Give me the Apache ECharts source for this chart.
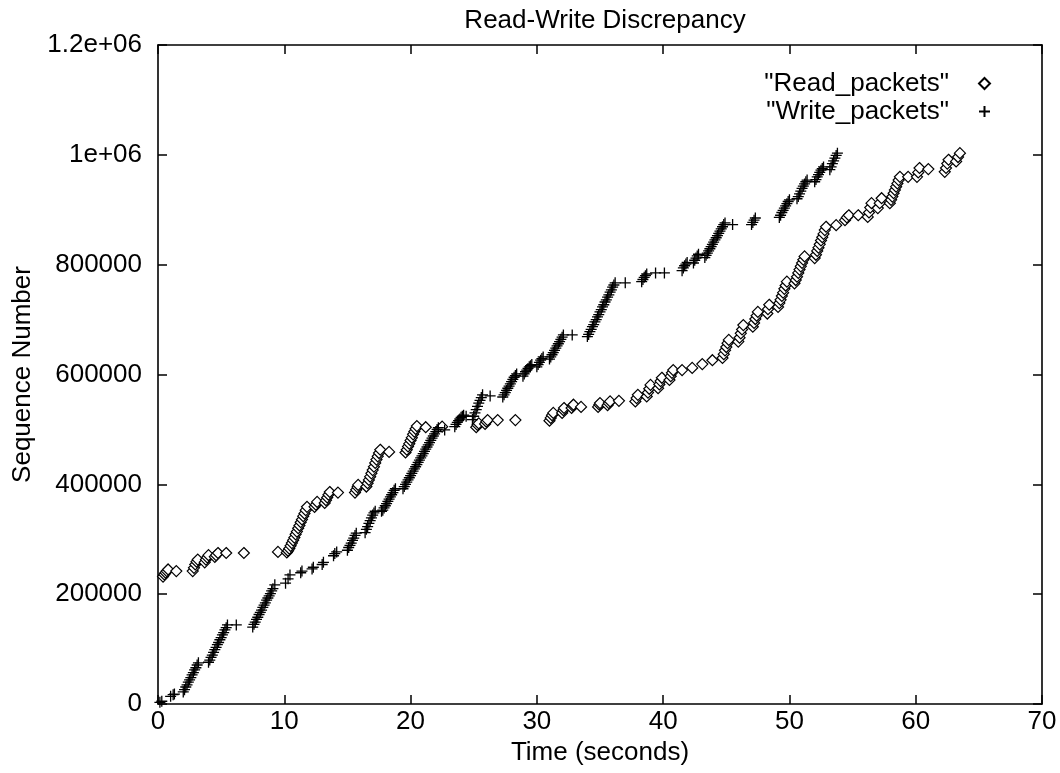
<!DOCTYPE html>
<html><head><meta charset="utf-8">
<script src="https://cdn.jsdelivr.net/npm/echarts@6/dist/echarts.min.js"></script>
<style>html,body{margin:0;padding:0;background:#fff}#c{width:1060px;height:773px}</style>
</head><body><div id="c"></div>
<script>
const chartTitle = 'Read-Write Discrepancy';
const xName = 'Time (seconds)';
const yName = 'Sequence Number';
const xTickLabels = ['0','10','20','30','40','50','60','70'];
const yTickLabels = ['0','200000','400000','600000','800000','1e+06','1.2e+06'];
const seriesNames = ['"Read_packets"', '"Write_packets"'];

const readPackets = [
[0.4,232000],[0.5,236000],[0.6,239000],[0.7,242000],[0.8,245000],
[1.45,242000],
[2.75,242000],[2.85,248000],[2.95,254000],[3.05,259000],[3.15,263000],
[3.7,258000],[3.8,263000],[3.9,267000],[4.0,271000],
[4.5,268000],[4.6,271000],[4.75,275000],
[5.4,275000],[6.8,275000],[9.5,277000],
[10.2,276000],[10.3,279000],[10.4,283000],[10.5,288000],[10.6,293000],[10.7,298000],[10.8,303000],[10.9,309000],[11.0,314000],[11.1,320000],[11.2,325000],[11.3,331000],[11.4,336000],[11.5,342000],[11.6,347000],[11.7,353000],[11.8,359000],
[12.4,359000],[12.5,363000],[12.6,368000],
[13.2,366000],[13.3,371000],[13.4,376000],[13.5,381000],[13.6,386000],
[14.25,385000],
[15.6,385000],[15.7,390000],[15.8,395000],[15.85,399000],
[16.5,396000],[16.6,402000],[16.7,408000],[16.8,414000],[16.9,420000],[17.0,426000],[17.1,432000],[17.2,439000],[17.3,445000],[17.4,451000],[17.5,457000],[17.6,463000],
[18.3,459000],
[19.6,458000],[19.7,463000],[19.8,469000],[19.9,474000],[20.0,480000],[20.1,485000],[20.2,491000],[20.3,496000],[20.4,501000],[20.5,506000],
[21.2,504000],[22.5,505000],
[25.2,504000],[25.3,508000],[25.4,511000],[25.9,510000],[26.0,514000],[26.1,517000],
[26.9,517000],[28.3,517000],
[31.0,516000],[31.1,521000],[31.2,526000],[31.3,530000],
[32.0,530000],[32.1,535000],[32.15,539000],
[32.75,539000],[32.85,543000],[32.9,545000],
[33.5,541000],
[34.85,541000],[34.95,545000],[35.0,548000],
[35.6,544000],[35.7,548000],[35.8,551000],
[36.5,552000],
[37.8,551000],[37.9,557000],[38.0,563000],
[38.7,560000],[38.8,567000],[38.9,574000],[39.0,581000],
[39.6,575000],[39.7,582000],[39.8,588000],[39.9,594000],
[40.5,590000],[40.6,597000],[40.7,603000],[40.8,608000],
[41.5,608000],[42.3,612000],[43.1,619000],[43.9,626000],
[44.7,630000],[44.8,637000],[44.9,644000],[45.0,650000],[45.1,657000],[45.2,663000],
[45.95,660000],[46.05,667000],[46.15,675000],[46.25,682000],[46.35,690000],
[47.1,687000],[47.2,694000],[47.3,701000],[47.4,707000],[47.5,714000],
[48.25,711000],[48.3,719000],[48.4,727000],
[49.1,723000],[49.2,730000],[49.3,736000],[49.4,743000],[49.5,749000],[49.6,756000],[49.7,762000],[49.8,769000],
[50.4,766000],[50.5,772000],[50.6,778000],[50.7,785000],[50.8,791000],[50.9,797000],[51.0,803000],[51.1,809000],[51.2,815000],
[52.0,812000],[52.1,818000],[52.2,825000],[52.3,831000],[52.4,837000],[52.5,844000],[52.6,850000],[52.7,856000],[52.8,863000],[52.9,869000],
[53.7,872000],
[54.4,881000],[54.55,886000],[54.7,890000],
[55.45,890000],
[56.2,887000],[56.3,895000],[56.4,904000],[56.5,912000],
[57.0,903000],[57.15,912000],[57.3,921000],
[57.95,912000],[58.05,918000],[58.15,924000],[58.25,930000],[58.35,936000],[58.45,942000],[58.55,948000],[58.65,954000],[58.75,960000],
[59.4,960000],
[60.1,960000],[60.2,968000],[60.3,976000],
[61.0,974000],
[62.3,969000],[62.4,976000],[62.5,984000],[62.6,991000],
[63.2,988000],[63.35,996000],[63.5,1003000]
];

const writePackets = [
[0.15,3000],[0.3,5000],[1.0,14000],[1.2,17000],[1.3,18000],
[2.0,22000],[2.1,26000],[2.2,31000],[2.3,35000],[2.4,40000],[2.5,44000],[2.6,48000],[2.7,53000],[2.8,57000],[2.9,62000],[3.0,66000],[3.1,71000],[3.2,75000],
[4.0,76000],
[4.1,80000],[4.2,85000],[4.3,89000],[4.4,94000],[4.5,99000],[4.6,103000],[4.7,108000],[4.8,112000],[4.9,117000],[5.0,121000],[5.1,126000],[5.2,130000],[5.3,135000],[5.4,139000],[5.5,144000],
[6.2,144000],
[7.5,140000],[7.6,145000],[7.7,149000],[7.8,154000],[7.9,158000],[8.0,163000],[8.1,167000],[8.2,171000],[8.3,176000],[8.4,180000],[8.5,184000],[8.6,189000],[8.7,193000],[8.8,197000],[8.9,201000],[9.0,206000],[9.1,210000],[9.25,217000],
[10.1,220000],[10.3,228000],[10.45,235000],[11.3,239000],[11.4,242000],[12.2,246000],[12.3,249000],[13.0,254000],[13.1,258000],
[13.9,270000],[14.0,274000],[14.15,277000],
[15.0,280000],[15.1,285000],[15.2,289000],[15.3,293000],[15.4,298000],[15.5,302000],[15.6,307000],[15.7,311000],
[16.4,312000],[16.5,318000],[16.6,323000],[16.7,329000],[16.8,334000],[16.9,339000],[17.0,344000],[17.1,348000],[17.2,351000],
[17.7,351000],
[17.8,353000],[17.9,357000],[18.0,361000],[18.1,365000],[18.2,369000],[18.3,373000],[18.4,377000],[18.5,381000],[18.6,385000],[18.7,389000],[18.8,392000],
[19.4,392000],
[19.5,396000],[19.6,400000],[19.7,404000],[19.8,408000],[19.9,412000],[20.0,416000],[20.1,420000],[20.2,424000],[20.3,428000],[20.4,432000],[20.5,436000],[20.6,440000],[20.7,444000],[20.8,448000],[20.9,452000],[21.0,456000],[21.1,460000],[21.2,464000],[21.3,468000],[21.4,472000],[21.5,476000],[21.6,480000],[21.7,484000],[21.8,488000],[21.9,492000],[22.0,496000],[22.1,500000],[22.2,503000],
[22.7,499000],[23.5,505000],[23.6,509000],[23.7,513000],[23.8,516000],[23.9,519000],[24.0,522000],[24.1,524000],[24.2,526000],
[24.4,524000],
[24.9,518000],[25.0,524000],[25.1,530000],[25.2,536000],[25.3,542000],[25.4,548000],[25.5,553000],[25.6,558000],[25.7,563000],
[26.3,561000],
[27.3,559000],[27.4,563000],[27.5,567000],[27.6,571000],[27.7,575000],[27.8,579000],[27.9,583000],[28.0,587000],[28.1,591000],[28.2,595000],[28.3,598000],[28.4,601000],
[28.9,597000],[29.0,601000],[29.1,605000],[29.2,608000],[29.3,611000],[29.4,614000],[29.5,616000],[29.6,618000],
[30.0,614000],[30.1,618000],[30.2,622000],[30.3,626000],[30.4,629000],[30.5,632000],
[31.0,628000],[31.1,632000],[31.2,636000],[31.3,640000],[31.4,644000],[31.5,648000],[31.6,652000],[31.7,656000],[31.8,660000],[31.9,664000],[32.0,668000],[32.1,672000],
[32.8,672000],
[34.0,669000],[34.1,673000],[34.2,678000],[34.3,682000],[34.4,687000],[34.5,691000],[34.6,696000],[34.7,700000],[34.8,705000],[34.9,709000],[35.0,714000],[35.1,718000],[35.2,723000],[35.3,727000],[35.4,732000],[35.5,736000],[35.6,741000],[35.7,745000],[35.8,750000],[35.9,754000],[36.0,759000],[36.1,763000],[36.2,767000],
[37.0,767000],
[38.3,769000],[38.4,773000],[38.5,777000],[38.6,780000],[38.7,783000],
[39.4,785000],[40.1,785000],
[41.5,789000],[41.6,794000],[41.7,798000],[41.8,801000],[41.9,804000],
[42.4,803000],[42.5,808000],[42.6,812000],[42.7,816000],[42.8,819000],
[43.3,813000],[43.4,817000],[43.5,821000],[43.6,825000],[43.7,829000],[43.8,833000],[43.9,837000],[44.0,841000],[44.1,845000],[44.2,849000],[44.3,853000],[44.4,857000],[44.5,861000],[44.6,865000],[44.7,869000],[44.8,873000],[44.9,876000],
[45.5,873000],
[47.0,873000],[47.1,877000],[47.2,881000],[47.3,885000],
[49.2,886000],[49.3,890000],[49.4,895000],[49.5,899000],[49.6,903000],[49.7,907000],[49.8,911000],[49.9,915000],[50.0,918000],
[50.6,920000],[50.7,924000],[50.8,929000],[50.9,934000],[51.0,939000],[51.1,943000],[51.2,947000],[51.3,951000],[51.4,954000],
[52.0,951000],[52.1,955000],[52.2,960000],[52.3,964000],[52.4,968000],[52.5,972000],[52.6,975000],[52.7,978000],
[53.2,973000],[53.3,978000],[53.4,984000],[53.5,989000],[53.6,994000],[53.7,999000],[53.8,1003000]
];

const FONT = '"Liberation Sans", Arial, sans-serif';
const FS = 26;
const chart = echarts.init(document.getElementById('c'), null, {renderer: 'canvas'});

function axisCommon() {
  return {
    axisLine: {show: true, onZero: false, lineStyle: {color: '#000', width: 1.6}},
    axisTick: {show: true, inside: true, length: 9, lineStyle: {color: '#000', width: 1.5}},
    splitLine: {show: false}
  };
}

const option = {
  animation: false,
  backgroundColor: '#fff',
  title: {
    text: chartTitle, left: 600, top: 3, textAlign: 'center',
    textStyle: {fontFamily: FONT, fontSize: FS, fontWeight: 'normal', color: '#000'}
  },
  grid: {left: 158, right: 18, top: 45, bottom: 69, containLabel: false},
  legend: {
    orient: 'vertical', right: 64, top: 65, align: 'right', itemGap: 1,
    itemWidth: 11, itemHeight: 11,
    textStyle: {fontFamily: FONT, fontSize: FS, color: '#000', lineHeight: 27, padding: [0, 25, 0, 0]},
    data: seriesNames
  },
  xAxis: [
    Object.assign(axisCommon(), {
      type: 'value', min: 0, max: 70, interval: 10, position: 'bottom',
      name: xName, nameLocation: 'middle', nameGap: 36,
      nameTextStyle: {fontFamily: FONT, fontSize: FS, color: '#000'},
      axisLabel: {fontFamily: FONT, fontSize: FS, color: '#000', margin: 5,
        formatter: (v) => xTickLabels[Math.round(v / 10)]}
    }),
    Object.assign(axisCommon(), {
      type: 'value', min: 0, max: 70, interval: 10, position: 'top',
      axisLabel: {show: false}
    })
  ],
  yAxis: [
    Object.assign(axisCommon(), {
      type: 'value', min: 0, max: 1200000, interval: 200000, position: 'left',
      name: yName, nameLocation: 'middle', nameGap: 122, nameRotate: 90,
      nameTextStyle: {fontFamily: FONT, fontSize: FS, color: '#000'},
      axisLabel: {fontFamily: FONT, fontSize: FS, color: '#000', margin: 16,
        formatter: (v) => yTickLabels[Math.round(v / 200000)]}
    }),
    Object.assign(axisCommon(), {
      type: 'value', min: 0, max: 1200000, interval: 200000, position: 'right',
      axisLabel: {show: false}
    })
  ],
  series: [
    {
      name: seriesNames[0], type: 'scatter', data: readPackets,
      symbol: 'diamond', symbolSize: 11,
      itemStyle: {color: '#fff', borderColor: '#000', borderWidth: 1.2, opacity: 1},
      emphasis: {disabled: true}, silent: true
    },
    {
      name: seriesNames[1], type: 'scatter', data: writePackets,
      symbol: 'path://M0,5L10,5M5,0L5,10', symbolSize: 11,
      itemStyle: {color: '#000', borderColor: '#000', borderWidth: 1.3, opacity: 1},
      emphasis: {disabled: true}, silent: true
    }
  ]
};
chart.setOption(option);
</script>
</body></html>
